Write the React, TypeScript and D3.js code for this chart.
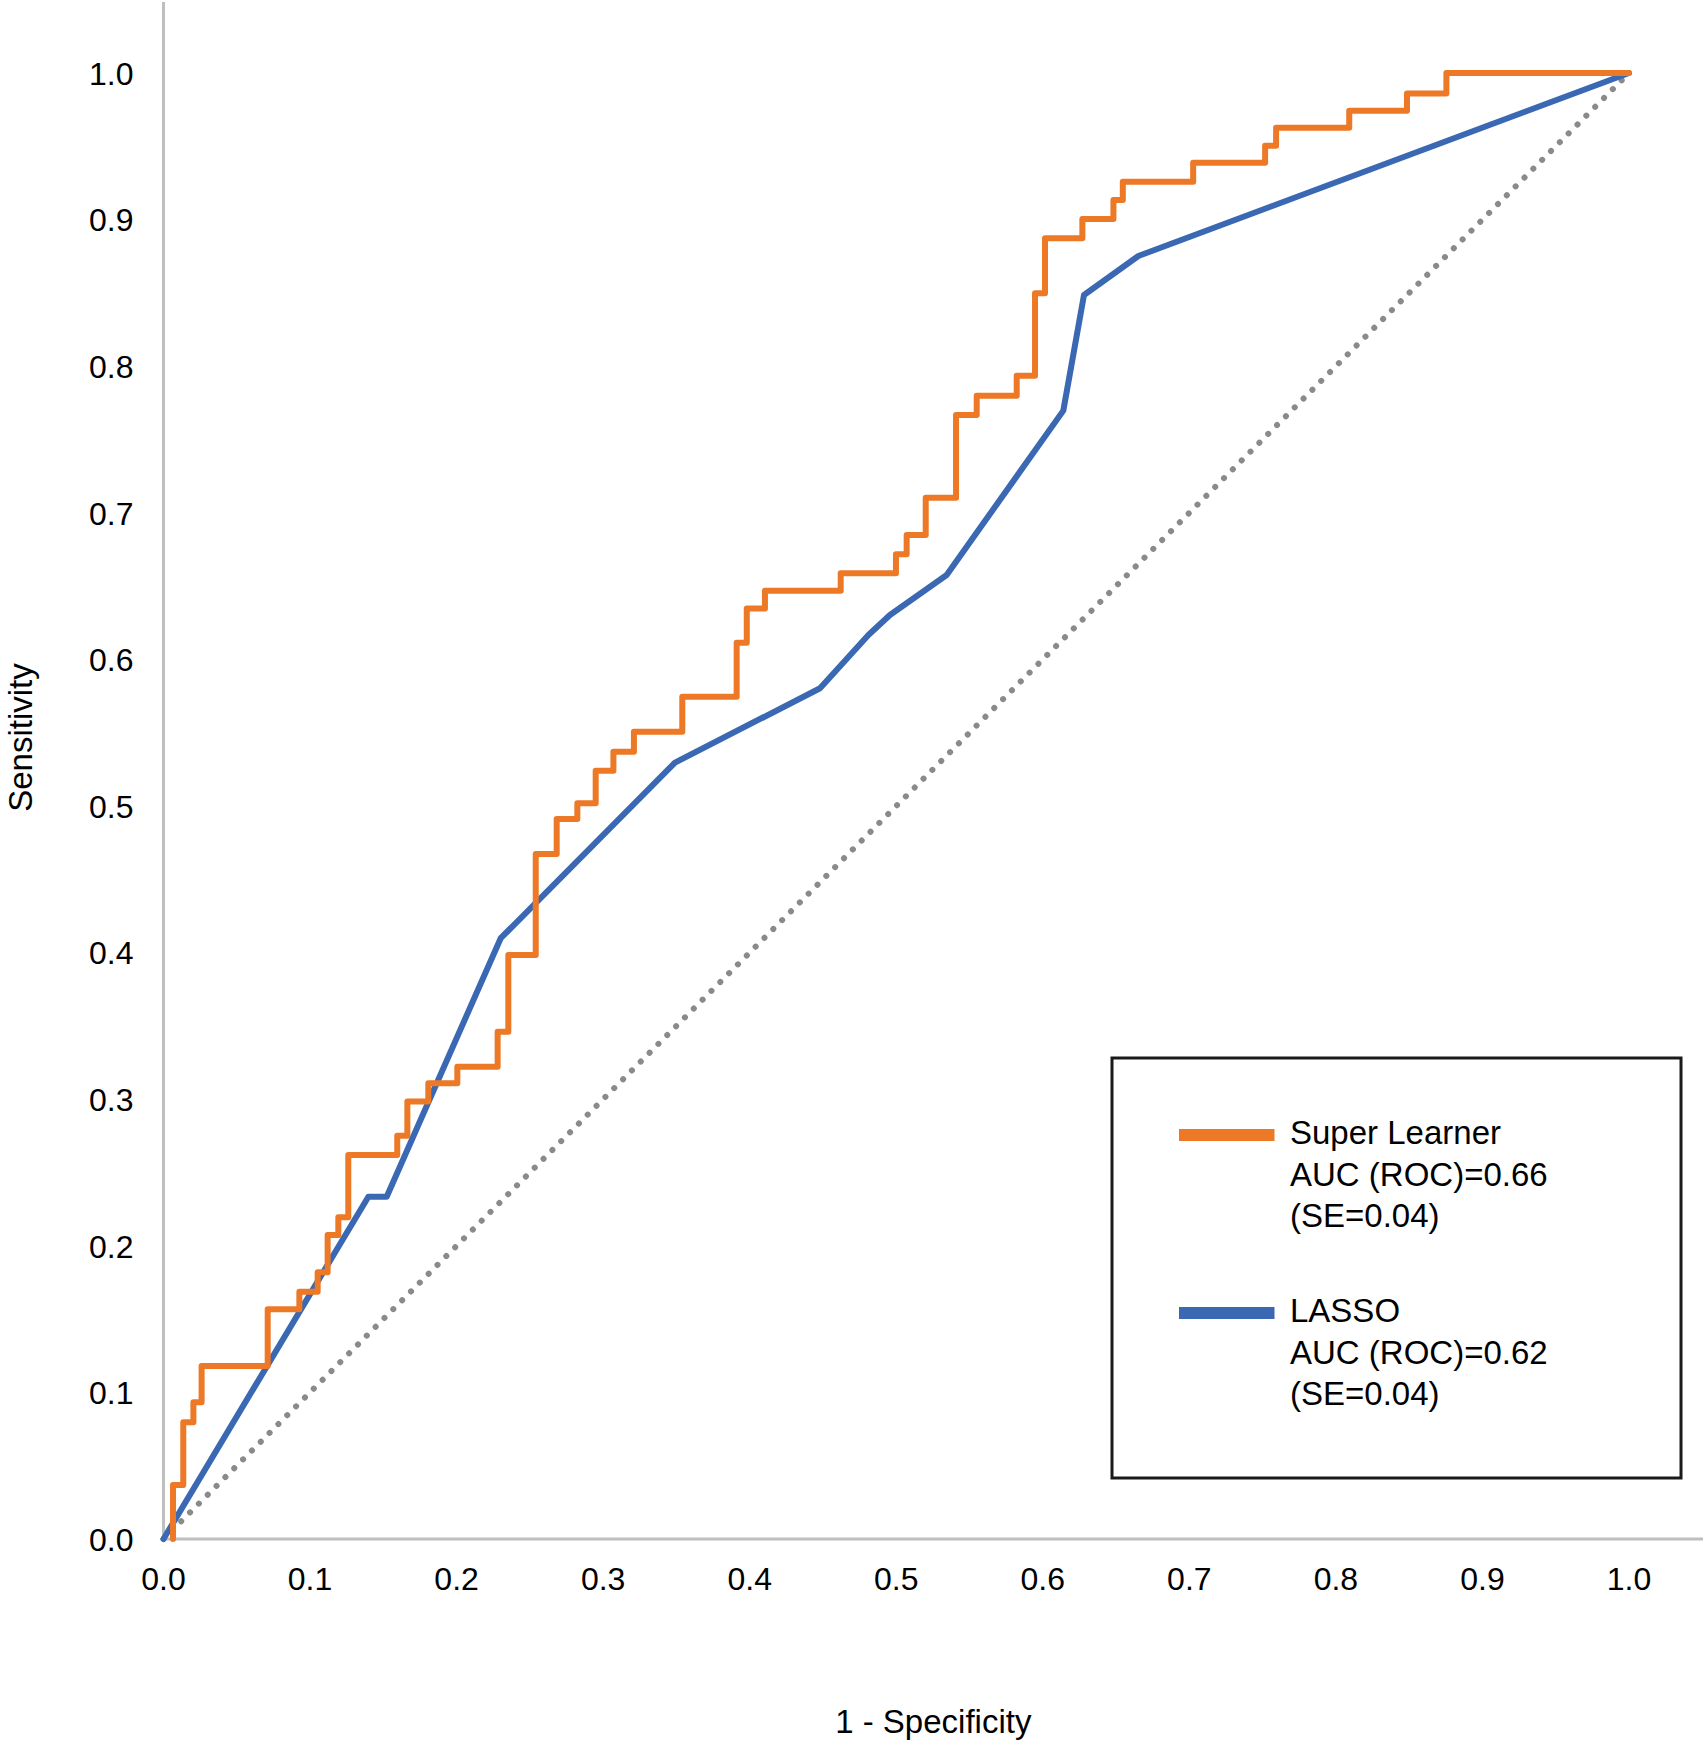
import React from "react";
import * as d3 from "d3";

// ---- Data ----
const tickValues = [0, 0.1, 0.2, 0.3, 0.4, 0.5, 0.6, 0.7, 0.8, 0.9, 1.0];
const tickLabels = ["0.0", "0.1", "0.2", "0.3", "0.4", "0.5", "0.6", "0.7", "0.8", "0.9", "1.0"];

// Super Learner ROC staircase vertices (1 - specificity, sensitivity)
const slFpr = [
  0.0065, 0.0065, 0.0135, 0.0135, 0.0204, 0.0204, 0.026, 0.026, 0.0711, 0.0711,
  0.0927, 0.0927, 0.1052, 0.1052, 0.112, 0.112, 0.1193, 0.1193, 0.1261, 0.1261,
  0.1595, 0.1595, 0.1664, 0.1664, 0.1807, 0.1807, 0.2005, 0.2005, 0.228, 0.228,
  0.2353, 0.2353, 0.254, 0.254, 0.2683, 0.2683, 0.2824, 0.2824, 0.2949, 0.2949,
  0.307, 0.307, 0.321, 0.321, 0.354, 0.354, 0.3911, 0.3911, 0.398, 0.398,
  0.4104, 0.4104, 0.4621, 0.4621, 0.4998, 0.4998, 0.5071, 0.5071, 0.5201, 0.5201,
  0.5408, 0.5408, 0.5549, 0.5549, 0.5822, 0.5822, 0.5947, 0.5947, 0.6015, 0.6015,
  0.627, 0.627, 0.6482, 0.6482, 0.6546, 0.6546, 0.7026, 0.7026, 0.7517, 0.7517,
  0.7592, 0.7592, 0.8091, 0.8091, 0.8485, 0.8485, 0.8754, 0.8754, 1.0,
];
const slTpr = [
  0, 0.0368, 0.0368, 0.0796, 0.0796, 0.0932, 0.0932, 0.118, 0.118, 0.1567,
  0.1567, 0.1687, 0.1687, 0.1819, 0.1819, 0.2074, 0.2074, 0.2194, 0.2194, 0.2619,
  0.2619, 0.2751, 0.2751, 0.2985, 0.2985, 0.3108, 0.3108, 0.3222, 0.3222, 0.346,
  0.346, 0.3984, 0.3984, 0.4673, 0.4673, 0.4911, 0.4911, 0.5018, 0.5018, 0.5241,
  0.5241, 0.537, 0.537, 0.5507, 0.5507, 0.5746, 0.5746, 0.6114, 0.6114, 0.6348,
  0.6348, 0.6469, 0.6469, 0.6587, 0.6587, 0.6717, 0.6717, 0.6849, 0.6849, 0.7103,
  0.7103, 0.7667, 0.7667, 0.7799, 0.7799, 0.7935, 0.7935, 0.8497, 0.8497, 0.8872,
  0.8872, 0.9004, 0.9004, 0.9134, 0.9134, 0.9259, 0.9259, 0.9388, 0.9388, 0.9504,
  0.9504, 0.9627, 0.9627, 0.9743, 0.9743, 0.9861, 0.9861, 1.0, 1.0,
];

// LASSO ROC vertices
const lassoFpr = [0, 0.1398, 0.1523, 0.2301, 0.349, 0.448, 0.481, 0.4957, 0.5344, 0.614, 0.6281, 0.6652, 1.0];
const lassoTpr = [0, 0.2335, 0.2335, 0.4098, 0.5296, 0.5803, 0.6166, 0.6303, 0.6576, 0.7697, 0.8486, 0.8752, 1.0];

// Reference diagonal
const refFpr = [0, 1];
const refTpr = [0, 1];

const legendNames = ["Super Learner", "LASSO"];
const legendAuc = ["AUC (ROC)=0.66", "AUC (ROC)=0.62"];
const legendSe = ["(SE=0.04)", "(SE=0.04)"];
const seriesColors = ["#ED7826", "#3A68B3"];

const FONT = "'Liberation Sans', Arial, Helvetica, sans-serif";

export default function App() {
  const W = 1703;
  const H = 1741;
  const x = d3.scaleLinear().domain([0, 1]).range([163.5, 1629]);
  const y = d3.scaleLinear().domain([0, 1]).range([1539, 73]);

  const line = d3
    .line<[number, number]>()
    .x((d) => x(d[0]))
    .y((d) => y(d[1]));

  const sl: [number, number][] = slFpr.map((v, i) => [v, slTpr[i]]);
  const lasso: [number, number][] = lassoFpr.map((v, i) => [v, lassoTpr[i]]);
  const ref: [number, number][] = refFpr.map((v, i) => [v, refTpr[i]]);

  const legendX = 1112;
  const legendY = 1058;
  const legendW = 569;
  const legendH = 420;
  const groupOffset = [0, 178];

  return (
    <svg
      width={W}
      height={H}
      style={{ position: "absolute", left: 0, top: 0, background: "#fff" }}
      fontFamily={FONT}
    >
      <rect x={0} y={0} width={W} height={H} fill="#fff" />
      {/* axes */}
      <line x1={x(0)} x2={x(0)} y1={2} y2={y(0) + 1.5} stroke="#BFBFBF" strokeWidth={3} />
      <line x1={x(0) - 1.5} x2={W} y1={y(0)} y2={y(0)} stroke="#BFBFBF" strokeWidth={3} />

      {/* y tick labels */}
      {tickValues.map((v, i) => (
        <text key={"y" + i} x={133.5} y={y(v) + 11.7} textAnchor="end" fontSize={32} fill="#000">
          {tickLabels[i]}
        </text>
      ))}
      {/* x tick labels */}
      {tickValues.map((v, i) => (
        <text key={"x" + i} x={x(v)} y={1590} textAnchor="middle" fontSize={32} fill="#000">
          {tickLabels[i]}
        </text>
      ))}

      {/* axis titles */}
      <text
        transform={`translate(31.5, 737.5) rotate(-90)`}
        textAnchor="middle"
        fontSize={33}
        fill="#000"
      >
        Sensitivity
      </text>
      <text x={933.3} y={1732.7} textAnchor="middle" fontSize={33} fill="#000">
        1 - Specificity
      </text>

      {/* reference diagonal */}
      <path
        d={line(ref) || ""}
        fill="none"
        stroke="#8A8A8A"
        strokeWidth={6}
        strokeLinecap="round"
        strokeDasharray="0.1 12.4"
      />
      {/* LASSO */}
      <path
        d={line(lasso) || ""}
        fill="none"
        stroke={seriesColors[1]}
        strokeWidth={6}
        strokeLinejoin="round"
        strokeLinecap="round"
      />
      {/* Super Learner */}
      <path
        d={line(sl) || ""}
        fill="none"
        stroke={seriesColors[0]}
        strokeWidth={6}
        strokeLinejoin="round"
        strokeLinecap="round"
      />

      {/* legend */}
      <rect
        x={legendX}
        y={legendY}
        width={legendW}
        height={legendH}
        fill="#fff"
        stroke="#1A1A1A"
        strokeWidth={3}
      />
      {legendNames.map((name, i) => {
        const base = 1144 + groupOffset[i];
        return (
          <g key={name}>
            <rect
              x={1179}
              y={base - 9 - 6}
              width={95.5}
              height={12}
              fill={seriesColors[i]}
            />
            <text x={1290} y={base} fontSize={33} fill="#000">
              {name}
            </text>
            <text x={1290} y={base + 41.6} fontSize={33} fill="#000">
              {legendAuc[i]}
            </text>
            <text x={1290} y={base + 83.2} fontSize={33} fill="#000">
              {legendSe[i]}
            </text>
          </g>
        );
      })}
    </svg>
  );
}
